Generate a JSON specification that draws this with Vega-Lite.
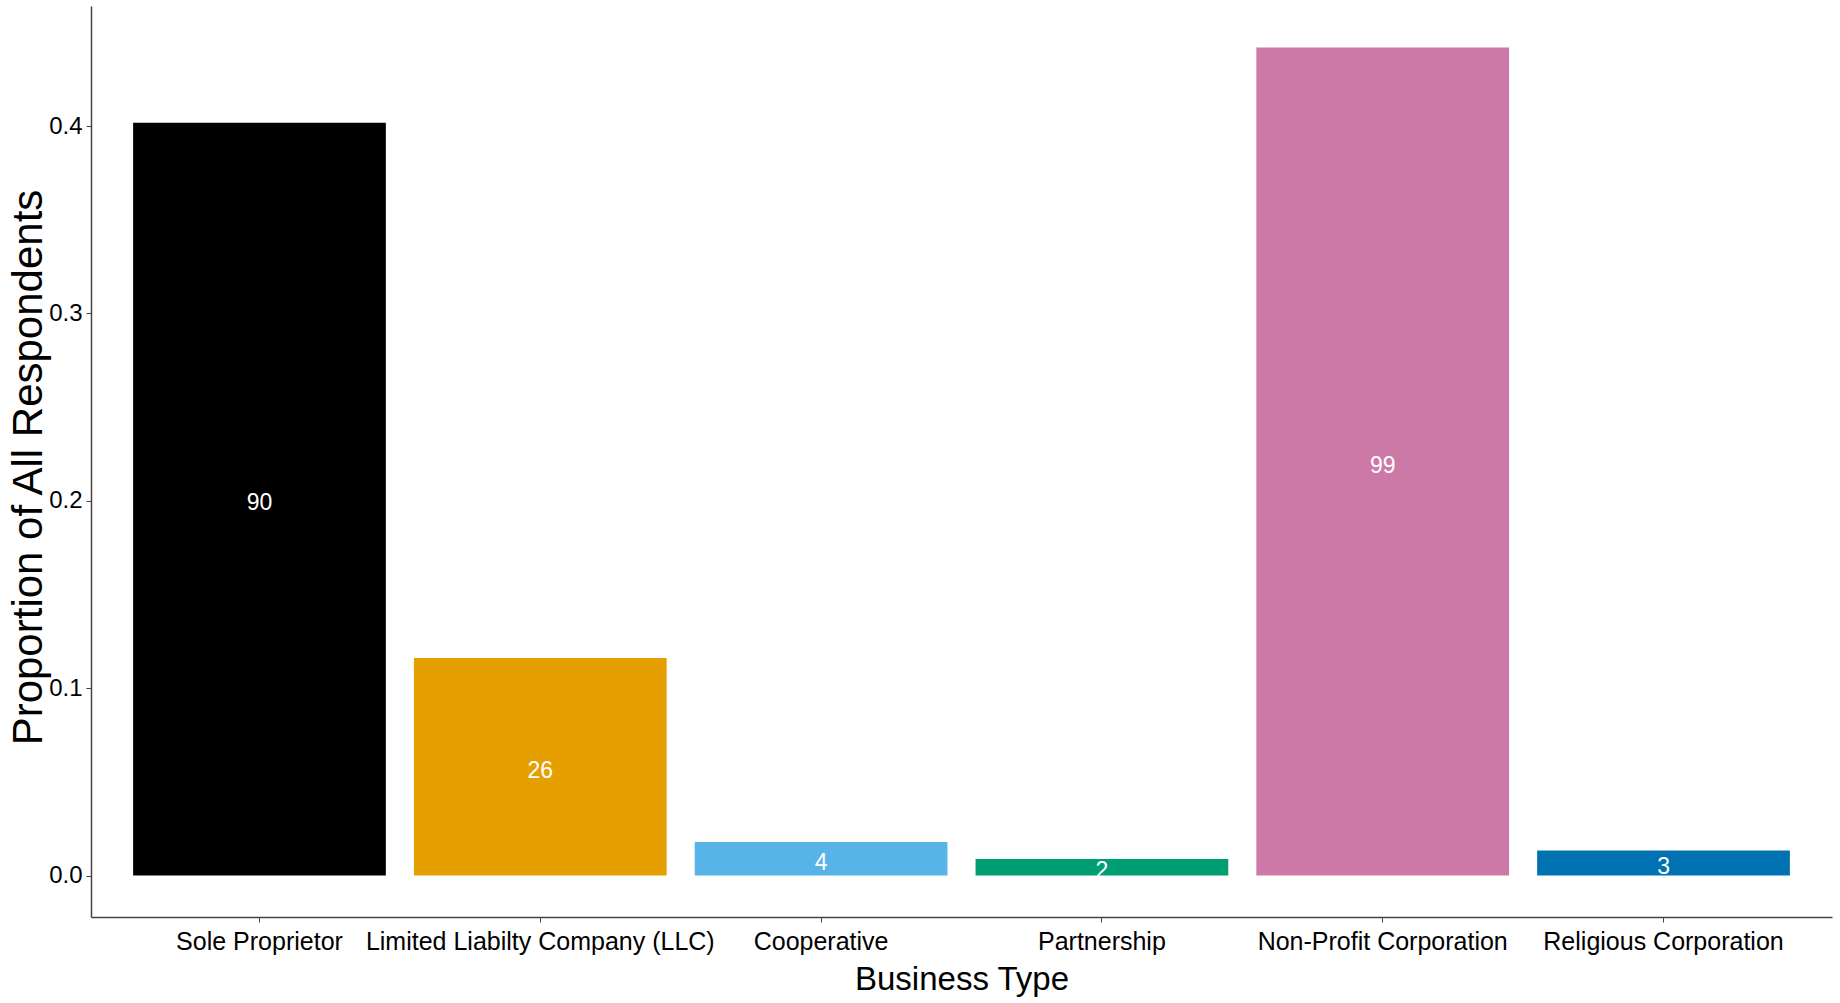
{
  "$schema": "https://vega.github.io/schema/vega-lite/v6.json",
  "width": 1741,
  "height": 911,
  "autosize": {"type": "none"},
  "padding": {"left": 91, "top": 6, "right": 8, "bottom": 86},
  "background": "white",
  "config": {"view": {"stroke": null}},
  "data": {
    "values": [
      {"type": "Sole Proprietor", "n": 90, "prop": 0.4018},
      {"type": "Limited Liabilty Company (LLC)", "n": 26, "prop": 0.1161},
      {"type": "Cooperative", "n": 4, "prop": 0.0179},
      {"type": "Partnership", "n": 2, "prop": 0.0089},
      {"type": "Non-Profit Corporation", "n": 99, "prop": 0.4420},
      {"type": "Religious Corporation", "n": 3, "prop": 0.0134}
    ]
  },
  "transform": [{"calculate": "datum.prop / 2", "as": "mid"}],
  "encoding": {
    "x": {
      "field": "type",
      "type": "nominal",
      "sort": null,
      "scale": {"paddingInner": 0.1, "paddingOuter": 0.15},
      "axis": {
        "title": "Business Type",
        "labelAngle": 0,
        "labelLimit": 0,
        "labelFont": "Liberation Sans, Arial, sans-serif",
        "labelFontSize": 25,
        "labelColor": "#000000",
        "labelPadding": 7,
        "tickSize": 5,
        "tickColor": "#444444",
        "domainColor": "#444444",
        "domainWidth": 1.5,
        "titleFont": "Liberation Sans, Arial, sans-serif",
        "titleFontSize": 33,
        "titleFontWeight": "normal",
        "titleColor": "#000000",
        "titleBaseline": "alphabetic",
        "titleY": 72
      }
    }
  },
  "layer": [
    {
      "mark": {"type": "bar"},
      "encoding": {
        "y": {
          "field": "prop",
          "type": "quantitative",
          "scale": {"domain": [-0.0221, 0.4641], "nice": false, "zero": false},
          "axis": {
            "title": "Proportion of All Respondents",
            "values": [0, 0.1, 0.2, 0.3, 0.4],
            "format": ".1f",
            "grid": false,
            "labelFont": "Liberation Sans, Arial, sans-serif",
            "labelFontSize": 24,
            "labelColor": "#000000",
            "labelPadding": 4,
            "tickSize": 5,
            "tickColor": "#444444",
            "domainColor": "#444444",
            "domainWidth": 1.5,
            "titleFont": "Liberation Sans, Arial, sans-serif",
            "titleFontSize": 42,
            "titleFontWeight": "normal",
            "titleColor": "#000000",
            "titleBaseline": "alphabetic",
            "titleAngle": -90,
            "titleX": -50,
            "titleY": 461
          }
        },
        "y2": {"datum": 0},
        "color": {
          "field": "type",
          "type": "nominal",
          "sort": null,
          "legend": null,
          "scale": {
            "domain": ["Sole Proprietor", "Limited Liabilty Company (LLC)", "Cooperative", "Partnership", "Non-Profit Corporation", "Religious Corporation"],
            "range": ["#000000", "#E69F00", "#56B4E9", "#009E73", "#CC79A7", "#0072B2"]
          }
        }
      }
    },
    {
      "mark": {
        "type": "text",
        "color": "white",
        "font": "Liberation Sans, Arial, sans-serif",
        "fontSize": 23,
        "baseline": "middle",
        "align": "center",
        "dy": 4
      },
      "encoding": {
        "y": {"field": "mid", "type": "quantitative"},
        "text": {"field": "n", "type": "quantitative"}
      }
    }
  ]
}
